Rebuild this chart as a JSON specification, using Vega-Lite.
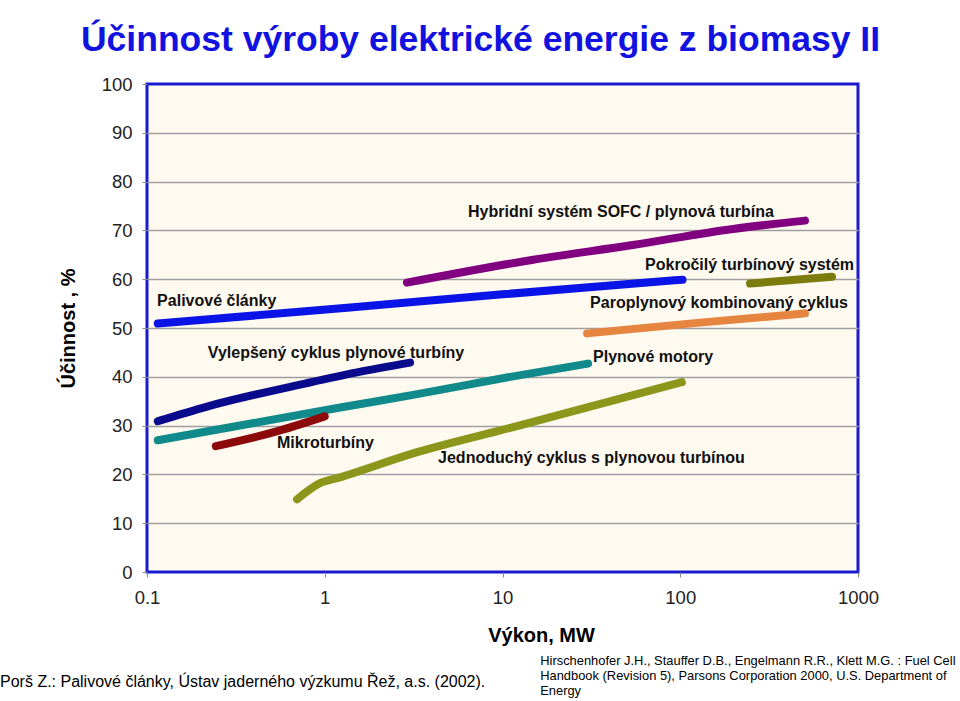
{
  "$schema": "https://vega.github.io/schema/vega-lite/v6.json",
  "width": 711,
  "height": 488,
  "autosize": {"type": "none"},
  "padding": {"left": 147, "top": 84, "right": 102, "bottom": 129},
  "background": "white",
  "title": {
    "text": "Účinnost výroby elektrické energie z biomasy II",
    "font": "Liberation Sans",
    "fontSize": 35.5,
    "fontWeight": "bold",
    "color": "#1212e0",
    "anchor": "middle",
    "frame": "group",
    "dx": -22,
    "offset": 17
  },
  "datasets": {
    "lines": [
      {"series": "Palivové články", "x": 0.115, "y": 50.9},
      {"series": "Palivové články", "x": 1.39, "y": 54.2},
      {"series": "Palivové články", "x": 10, "y": 56.9},
      {"series": "Palivové články", "x": 103, "y": 59.9},
      {"series": "Hybridní systém", "x": 2.9, "y": 59.3},
      {"series": "Hybridní systém", "x": 14.9, "y": 64.0},
      {"series": "Hybridní systém", "x": 54, "y": 67.0},
      {"series": "Hybridní systém", "x": 198, "y": 70.3},
      {"series": "Hybridní systém", "x": 503, "y": 72.0},
      {"series": "Pokročilý turbínový systém", "x": 247, "y": 59.1},
      {"series": "Pokročilý turbínový systém", "x": 714, "y": 60.5},
      {"series": "Paroplynový kombinovaný cyklus", "x": 29.9, "y": 48.9},
      {"series": "Paroplynový kombinovaný cyklus", "x": 129, "y": 51.1},
      {"series": "Paroplynový kombinovaný cyklus", "x": 503, "y": 53.0},
      {"series": "Vylepšený cyklus", "x": 0.115, "y": 30.9},
      {"series": "Vylepšený cyklus", "x": 0.218, "y": 33.9},
      {"series": "Vylepšený cyklus", "x": 0.794, "y": 38.7},
      {"series": "Vylepšený cyklus", "x": 1.52, "y": 40.9},
      {"series": "Vylepšený cyklus", "x": 3.02, "y": 42.9},
      {"series": "Plynové motory", "x": 0.115, "y": 27.0},
      {"series": "Plynové motory", "x": 1.22, "y": 33.7},
      {"series": "Plynové motory", "x": 3.14, "y": 36.3},
      {"series": "Plynové motory", "x": 11.5, "y": 40.1},
      {"series": "Plynové motory", "x": 30.3, "y": 42.7},
      {"series": "Mikroturbíny", "x": 0.244, "y": 25.8},
      {"series": "Mikroturbíny", "x": 0.511, "y": 28.6},
      {"series": "Mikroturbíny", "x": 1.0, "y": 31.9},
      {"series": "Jednoduchý cyklus", "x": 0.698, "y": 14.9},
      {"series": "Jednoduchý cyklus", "x": 0.94, "y": 18.2},
      {"series": "Jednoduchý cyklus", "x": 1.22, "y": 19.4},
      {"series": "Jednoduchý cyklus", "x": 3.14, "y": 24.3},
      {"series": "Jednoduchý cyklus", "x": 11.5, "y": 29.7},
      {"series": "Jednoduchý cyklus", "x": 102, "y": 38.9}
    ],
    "labels": [
      {"label": "Palivové články", "x": 0.114, "y": 55.6},
      {"label": "Hybridní systém SOFC / plynová turbína", "x": 6.4, "y": 73.8},
      {"label": "Pokročilý turbínový systém", "x": 63.4, "y": 63.0},
      {"label": "Paroplynový kombinovaný cyklus", "x": 31.1, "y": 55.2},
      {"label": "Vylepšený cyklus plynové turbíny", "x": 0.22, "y": 44.8},
      {"label": "Mikroturbíny", "x": 0.539, "y": 26.4},
      {"label": "Plynové motory", "x": 32.3, "y": 44.0},
      {"label": "Jednoduchý cyklus s plynovou turbínou", "x": 4.34, "y": 23.3}
    ]
  },
  "layer": [
    {
      "data": {"name": "lines"},
      "mark": {"type": "line", "strokeWidth": 8, "strokeCap": "round", "strokeJoin": "round", "interpolate": "monotone"},
      "encoding": {
        "x": {
          "field": "x", "type": "quantitative",
          "scale": {"type": "log", "domain": [0.1, 1000], "nice": false},
          "axis": {
            "values": [0.1, 1, 10, 100, 1000],
            "format": "~g",
            "grid": false,
            "domain": false,
            "tickSize": 5,
            "tickColor": "#888888",
            "labelFont": "Liberation Sans",
            "labelFontSize": 18.5,
            "labelColor": "#222222",
            "labelPadding": 11,
            "labelFlush": false,
            "title": "Výkon, MW",
            "titleFont": "Liberation Sans",
            "titleFontSize": 20,
            "titleFontWeight": "bold",
            "titleColor": "#000000",
            "titleX": 394,
            "titleY": 69,
            "titleAlign": "center",
            "titleBaseline": "alphabetic"
          }
        },
        "y": {
          "field": "y", "type": "quantitative",
          "scale": {"domain": [0, 100], "nice": false},
          "axis": {
            "values": [0, 10, 20, 30, 40, 50, 60, 70, 80, 90, 100],
            "grid": true,
            "gridColor": {"condition": {"test": "datum.value == 0 || datum.value == 100", "value": null}, "value": "#9f9f9f"},
            "gridWidth": 1.5,
            "domain": false,
            "tickSize": 5,
            "tickColor": "#888888",
            "labelFont": "Liberation Sans",
            "labelFontSize": 18.5,
            "labelColor": "#222222",
            "labelPadding": 10,
            "labelFlush": false,
            "title": "Účinnost , %",
            "titleFont": "Liberation Sans",
            "titleFontSize": 20,
            "titleFontWeight": "bold",
            "titleColor": "#000000",
            "titlePadding": 23
          }
        },
        "color": {
          "field": "series", "type": "nominal", "legend": null,
          "scale": {
            "domain": ["Palivové články", "Hybridní systém", "Pokročilý turbínový systém", "Paroplynový kombinovaný cyklus", "Vylepšený cyklus", "Plynové motory", "Mikroturbíny", "Jednoduchý cyklus"],
            "range": ["#0a14e6", "#800080", "#7c7c0e", "#e6853f", "#0a0a8c", "#108a8a", "#8c0a0a", "#8c961a"]
          }
        }
      }
    },
    {
      "data": {"name": "labels"},
      "mark": {"type": "text", "align": "left", "baseline": "middle", "font": "Liberation Sans", "fontSize": 16, "fontWeight": "bold", "color": "#111111"},
      "encoding": {
        "x": {"field": "x", "type": "quantitative"},
        "y": {"field": "y", "type": "quantitative"},
        "text": {"field": "label"}
      }
    },
    {
      "data": {"values": [{}]},
      "mark": {"type": "text", "align": "left", "baseline": "middle", "font": "Liberation Sans", "fontSize": 16, "color": "#000000", "clip": false,
        "text": "Porš Z.: Palivové články, Ústav jaderného výzkumu Řež, a.s. (2002)."},
      "encoding": {
        "x": {"datum": 0.0149, "type": "quantitative"},
        "y": {"datum": -22.5, "type": "quantitative"}
      }
    },
    {
      "data": {"values": [{}]},
      "mark": {"type": "text", "align": "left", "baseline": "middle", "font": "Liberation Sans", "fontSize": 12.9, "color": "#000000", "clip": false, "lineHeight": 15,
        "text": ["Hirschenhofer J.H., Stauffer D.B., Engelmann R.R., Klett M.G. : Fuel Cell", "Handbook (Revision 5), Parsons Corporation 2000, U.S. Department of", "Energy"]},
      "encoding": {
        "x": {"datum": 16.3, "type": "quantitative"},
        "y": {"datum": -18.3, "type": "quantitative"}
      }
    }
  ],
  "config": {
    "view": {"fill": "#fffaf0", "stroke": "#1a1ad0", "strokeWidth": 3}
  }
}
